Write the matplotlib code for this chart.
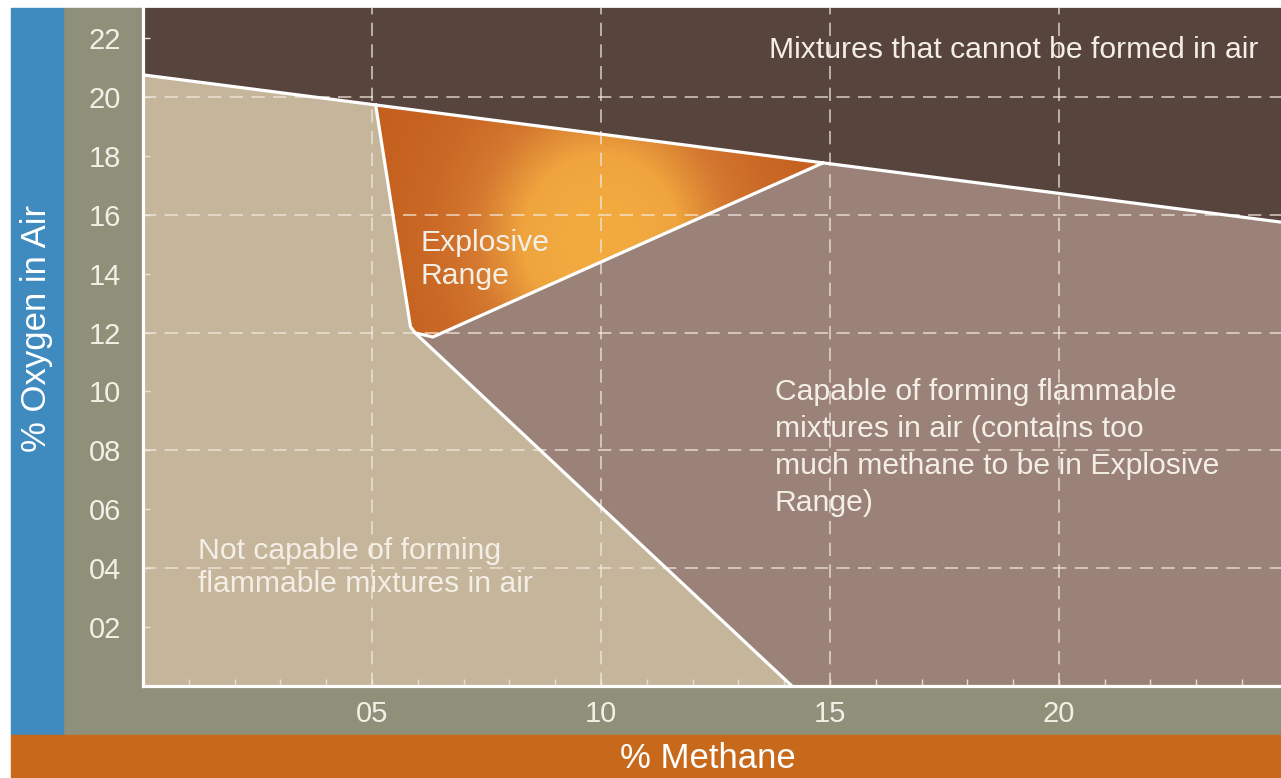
"""Methane / oxygen flammability diagram"""
import numpy as np
import matplotlib
matplotlib.use('Agg')
import matplotlib.pyplot as plt
from matplotlib.patches import Polygon, Rectangle
from matplotlib.colors import LinearSegmentedColormap

plt.rcParams['font.family'] = ['Liberation Sans', 'DejaVu Sans']

# boundary lines (% methane, % oxygen)
air_limit_x = [0.0, 24.85]
air_limit_y = [20.75, 15.75]
explosive_x = [5.08, 14.85, 6.33, 5.94, 5.84]
explosive_y = [19.73, 17.76, 11.85, 11.99, 12.20]
lower_limit_x = [5.94, 14.17]
lower_limit_y = [11.99, 0.0]

x_ticks = [5, 10, 15, 20]
x_tick_labels = ['05', '10', '15', '20']
y_ticks = [2, 4, 6, 8, 10, 12, 14, 16, 18, 20, 22]
y_tick_labels = ['02', '04', '06', '08', '10', '12', '14', '16', '18', '20', '22']
grid_x = [5, 10, 15, 20]
grid_y = [4, 8, 12, 16, 20]

region_labels = {
    'cannot': 'Mixtures that cannot be formed in air',
    'explosive': 'Explosive\nRange',
    'rich': 'Capable of forming flammable\nmixtures in air (contains too\nmuch methane to be in Explosive\nRange)',
    'lean': 'Not capable of forming\nflammable mixtures in air',
}

C_DARK = '#57443d'
C_TAN = '#c5b59b'
C_MAUVE = '#9a8278'
C_OLIVE = '#8f9079'
C_BLUE = '#3f8bbf'
C_ORANGE = '#c7681b'

W, H = 1281, 778
fig = plt.figure(figsize=(W / 100, H / 100), dpi=100)

# coloured bands behind the axes
fig.patches.append(Rectangle((63 / W, (H - 735) / H), (W - 63) / W, (735 - 8) / H,
                             transform=fig.transFigure, color=C_OLIVE, zorder=-2))
fig.patches.append(Rectangle((11 / W, (H - 735) / H), (63 - 11) / W, (735 - 8) / H,
                             transform=fig.transFigure, color=C_BLUE, zorder=-2))
fig.patches.append(Rectangle((11 / W, 0), (W - 11) / W, (H - 735) / H,
                             transform=fig.transFigure, color=C_ORANGE, zorder=-2))

ax = fig.add_axes([143 / W, (H - 686) / H, (W - 143) / W, (686 - 8) / H])
ax.set_facecolor(C_DARK)
ax.set_xlim(0, 24.85)
ax.set_ylim(0, 23.02)

# lean region (left of explosive range / lower limit)
lean = [(0, 0), (0, air_limit_y[0]), (explosive_x[0], explosive_y[0]),
        (explosive_x[4], explosive_y[4]), (lower_limit_x[0], lower_limit_y[0]),
        (lower_limit_x[1], lower_limit_y[1])]
ax.add_patch(Polygon(lean, closed=True, facecolor=C_TAN, edgecolor='none', zorder=1))

# rich region
rich = [(lower_limit_x[0], lower_limit_y[0]), (explosive_x[2], explosive_y[2]),
        (explosive_x[1], explosive_y[1]), (air_limit_x[1], air_limit_y[1]),
        (air_limit_x[1], 0), (lower_limit_x[1], lower_limit_y[1])]
ax.add_patch(Polygon(rich, closed=True, facecolor=C_MAUVE, edgecolor='none', zorder=1))

# explosive range with glow
expl = Polygon(list(zip(explosive_x, explosive_y)), closed=True,
               facecolor='none', edgecolor='none', zorder=1)
ax.add_patch(expl)
gx, gy = np.meshgrid(np.linspace(5, 15, 300), np.linspace(11.5, 20, 200))
glow = np.exp(-((gx - 10.0) / 2.7) ** 2 - ((gy - 15.2) / 4.5) ** 2)
cmap = LinearSegmentedColormap.from_list('glow', ['#c4601f', '#d47830', '#efa43e', '#f3ab3f'])
im = ax.imshow(glow, extent=[5, 15, 11.5, 20], origin='lower', cmap=cmap,
               aspect='auto', zorder=1, interpolation='bilinear')
im.set_clip_path(expl)

# dashed grid
for gxv in grid_x:
    ax.axvline(gxv, color='#f4ece2', lw=1.2, alpha=0.75, ls=(0, (8, 5)), zorder=2)
for gyv in grid_y:
    ax.axhline(gyv, color='#f4ece2', lw=1.2, alpha=0.75, ls=(0, (8, 5)), zorder=2)

# white boundary lines
lw = 2.3
ax.plot(air_limit_x, air_limit_y, color='white', lw=lw, zorder=3, solid_capstyle='butt')
ax.plot(explosive_x[1:] + explosive_x[:1], explosive_y[1:] + explosive_y[:1],
        color='white', lw=lw, zorder=3, solid_joinstyle='round')
ax.plot(lower_limit_x, lower_limit_y, color='white', lw=lw, zorder=3)

# region labels
txt = dict(color='#f4efe6', fontsize=21.7, zorder=4, va='center', ha='left')
ax.text(13.68, 21.6, region_labels['cannot'], **txt)
ax.text(6.05, 14.48, region_labels['explosive'], linespacing=1.25, **txt)
ax.text(13.8, 8.1, region_labels['rich'], linespacing=1.4, **txt)
ax.text(1.2, 4.02, region_labels['lean'], linespacing=1.25, **txt)

# axes styling
for side in ['top', 'right']:
    ax.spines[side].set_visible(False)
for side in ['left', 'bottom']:
    ax.spines[side].set_color('white')
    ax.spines[side].set_linewidth(2.3)
    ax.spines[side].set_zorder(5)

ax.set_xticks(x_ticks)
ax.set_xticklabels(x_tick_labels)
ax.set_xticks(np.arange(1, 25), minor=True)
ax.set_yticks(y_ticks)
ax.set_yticklabels(y_tick_labels)
ax.tick_params(axis='both', which='both', direction='in', color='#e8e0d4',
               length=5, width=1, labelcolor='#f4efe6', labelsize=21)
ax.tick_params(axis='x', which='both', pad=10)
ax.tick_params(axis='y', which='both', pad=16)

fig.text(37 / W, 1 - 328 / H, '% Oxygen in Air', rotation=90, color='white',
         fontsize=25, ha='center', va='center')
fig.text(708 / W, 1 - 758 / H, '% Methane', color='white', fontsize=25,
         ha='center', va='center')

fig.savefig('out.png', dpi=100, facecolor='white')
